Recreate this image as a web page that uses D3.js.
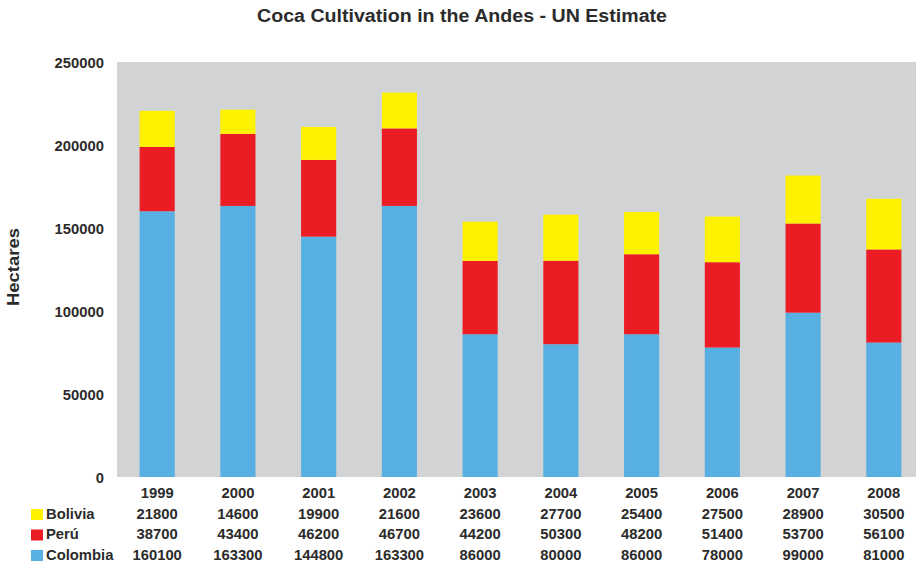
<!DOCTYPE html>
<html>
<head>
<meta charset="utf-8">
<script src="https://cdn.jsdelivr.net/npm/d3@7"></script>
<style>
  html, body { margin: 0; padding: 0; background: #fff; }
  svg { display: block; }
  text { font-family: "Liberation Sans", Arial, sans-serif; font-weight: bold; fill: #2b2b2b; }
</style>
</head>
<body>
<svg id="chart" width="916" height="565"></svg>
<script>
// Coca cultivation (hectares) by country and year
const years = ["1999", "2000", "2001", "2002", "2003", "2004", "2005", "2006", "2007", "2008"];
const colombia = [160100, 163300, 144800, 163300, 86000, 80000, 86000, 78000, 99000, 81000];
const peru = [38700, 43400, 46200, 46700, 44200, 50300, 48200, 51400, 53700, 56100];
const bolivia = [21800, 14600, 19900, 21600, 23600, 27700, 25400, 27500, 28900, 30500];
const yTicks = [0, 50000, 100000, 150000, 200000, 250000];

// Stack order bottom-to-top: Colombia, Perú, Bolivia
const seriesDefs = [
  { key: "Colombia", values: colombia, color: "#58b0e2" },
  { key: "Perú", values: peru, color: "#ec1c24" },
  { key: "Bolivia", values: bolivia, color: "#fff200" }
];

const svg = d3.select("#chart");
const plot = { left: 117, top: 62, right: 924, bottom: 477 };
const fs = 14.8;

const x = d3.scaleBand().domain(years).range([plot.left, plot.right]).paddingInner(0.565).paddingOuter(0.28);
const y = d3.scaleLinear().domain([0, 250000]).range([plot.bottom, plot.top]);

// Plot background
svg.append("rect")
  .attr("x", plot.left).attr("y", plot.top)
  .attr("width", plot.right - plot.left).attr("height", plot.bottom - plot.top)
  .attr("fill", "#d1d3d4");

// Title
svg.append("text")
  .attr("x", 462).attr("y", 22)
  .attr("text-anchor", "middle")
  .attr("font-size", 17.5)
  .attr("textLength", 410)
  .attr("lengthAdjust", "spacingAndGlyphs")
  .text("Coca Cultivation in the Andes - UN Estimate");

// Y axis labels
const yAxis = d3.axisLeft(y).tickValues(yTicks).tickSize(0).tickPadding(0).tickFormat(d3.format("d"));
const gy = svg.append("g").attr("transform", "translate(104,0)").call(yAxis);
gy.select(".domain").remove();
gy.selectAll("text")
  .attr("font-size", fs)
  .attr("font-family", "'Liberation Sans', Arial, sans-serif")
  .attr("font-weight", "bold")
  .attr("fill", "#2b2b2b")
  .attr("dy", "0.35em");

svg.append("text")
  .attr("transform", "translate(19,267) rotate(-90)")
  .attr("text-anchor", "middle")
  .attr("font-size", 16)
  .attr("textLength", 78)
  .attr("lengthAdjust", "spacingAndGlyphs")
  .text("Hectares");

// Stacked bars
const stackData = years.map((yr, i) => {
  const row = { year: yr };
  seriesDefs.forEach(s => row[s.key] = s.values[i]);
  return row;
});
const stack = d3.stack().keys(seriesDefs.map(s => s.key));
const layers = stack(stackData);

const gBars = svg.append("g");
layers.forEach((layer, li) => {
  gBars.append("g")
    .attr("fill", seriesDefs[li].color)
    .selectAll("rect")
    .data(layer)
    .join("rect")
    .attr("x", d => x(d.data.year))
    .attr("y", d => y(d[1]))
    .attr("width", x.bandwidth())
    .attr("height", d => y(d[0]) - y(d[1]));
});

// Data table under the chart
const gTable = svg.append("g");
gTable.selectAll("text.year")
  .data(years)
  .join("text")
  .attr("class", "year")
  .attr("x", d => x(d) + x.bandwidth() / 2)
  .attr("y", 498)
  .attr("text-anchor", "middle")
  .attr("font-size", fs)
  .text(d => d);

const tableRows = [seriesDefs[2], seriesDefs[1], seriesDefs[0]];
tableRows.forEach((s, ri) => {
  const rowY = 518.5 + ri * 20.5;
  gTable.append("rect")
    .attr("x", 31).attr("y", rowY - 9.5)
    .attr("width", 12).attr("height", 11)
    .attr("fill", s.color);
  gTable.append("text")
    .attr("x", 46).attr("y", rowY)
    .attr("font-size", fs)
    .text(s.key);
  gTable.selectAll(null)
    .data(s.values)
    .join("text")
    .attr("x", (d, i) => x(years[i]) + x.bandwidth() / 2)
    .attr("y", rowY)
    .attr("text-anchor", "middle")
    .attr("font-size", fs)
    .text(d => d);
});
</script>
</body>
</html>
